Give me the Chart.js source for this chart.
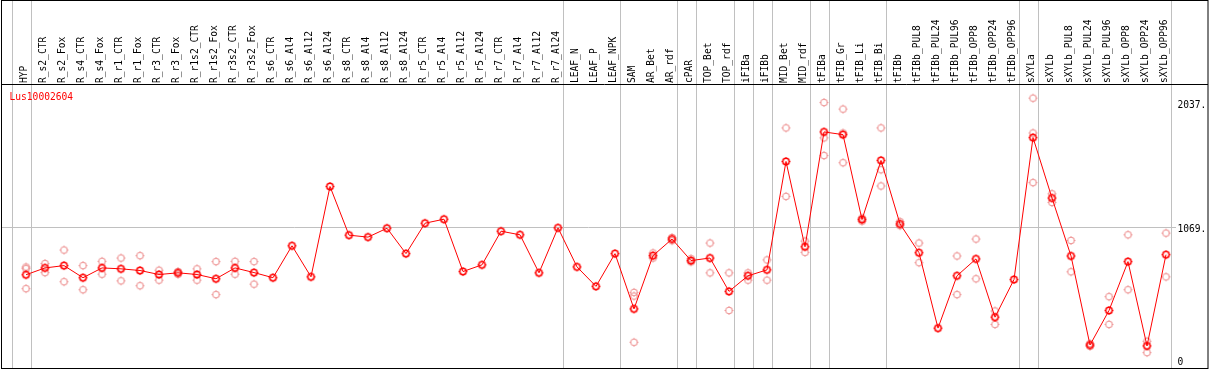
<!DOCTYPE html>
<html>
<head>
<meta charset="utf-8">
<script src="https://cdn.jsdelivr.net/npm/chart.js@4.4.0/dist/chart.umd.min.js"></script>
<style>
  html, body { margin: 0; padding: 0; background: #ffffff; }
  #wrap { width: 1209px; height: 370px; position: relative; }
</style>
</head>
<body>
<div id="wrap"><canvas id="c" width="1209" height="370"></canvas></div>
<script>
const geneName = 'Lus10002604';

const categories = [
  'HYP','R_s2_CTR','R_s2_Fox','R_s4_CTR','R_s4_Fox','R_r1_CTR','R_r1_Fox','R_r3_CTR','R_r3_Fox',
  'R_r1s2_CTR','R_r1s2_Fox','R_r3s2_CTR','R_r3s2_Fox','R_s6_CTR','R_s6_Al4','R_s6_Al12','R_s6_Al24',
  'R_s8_CTR','R_s8_Al4','R_s8_Al12','R_s8_Al24','R_r5_CTR','R_r5_Al4','R_r5_Al12','R_r5_Al24',
  'R_r7_CTR','R_r7_Al4','R_r7_Al12','R_r7_Al24','LEAF_N','LEAF_P','LEAF_NPK','SAM','AR_Bet','AR_rdf',
  'cPAR','TOP_Bet','TOP_rdf','iFIBa','iFIBb','MID_Bet','MID_rdf','tFIBa','tFIB_Gr','tFIB_Li','tFIB_Bi',
  'tFIBb','tFIBb_PUL8','tFIBb_PUL24','tFIBb_PUL96','tFIBb_OPP8','tFIBb_OPP24','tFIBb_OPP96',
  'sXYLa','sXYLb','sXYLb_PUL8','sXYLb_PUL24','sXYLb_PUL96','sXYLb_OPP8','sXYLb_OPP24','sXYLb_OPP96'
];

const means = [
  700, 753, 771, 677, 753, 746, 733, 702, 715,
  702, 669, 753, 717, 677, 925, 684, 1385,
  1007, 992, 1061, 864, 1100, 1131, 725, 777,
  1038, 1010, 715, 1064, 761, 610, 864, 435, 848, 977,
  810, 830, 571, 692, 738, 1579, 917, 1808, 1787, 1128, 1587,
  1094, 871, 286, 692, 823, 371, 663,
  1764, 1295, 846, 155, 423, 802, 148, 856
];

const replicates = [
  [760, 748, 592], [787, 717], [892, 646], [771, 584], [804, 704], [830, 653], [848, 615], [735, 658], [725, 704],
  [746, 658], [802, 546], [804, 704], [802, 627], [], [], [], [],
  [], [], [], [], [], [], [], [],
  [], [], [], [], [], [], [], [563, 535, 176], [869, 830], [989, 964],
  [825, 800], [946, 715], [715, 423], [715, 658], [815, 658], [1839, 1308], [961, 874], [2036, 1762, 1625], [1985, 1800, 1569], [1140, 1116], [1839, 1515, 1389],
  [1112, 1081], [946, 794], [], [846, 546], [977, 669], [419, 315], [],
  [2070, 1800, 1415], [1328, 1261], [966, 723], [165, 145], [530, 315], [1010, 584], [184, 96], [1023, 684]
];

const yTicks = [0, 1069, 2037];
const yTickLabels = ['0', '1069.', '2037.'];
// index of the last category of each group (-1 = before the first)
const groupEnds = [-1, 0, 28, 31, 34, 35, 37, 38, 39, 41, 42, 45, 52, 53, 60];

const FONT = '9.6px "DejaVu Sans Mono", "Liberation Mono", monospace';

function makeMarker(color, lw) {
  const s = 11, c = s / 2, r = 3.2;
  const cv = document.createElement('canvas');
  cv.width = s; cv.height = s;
  const g = cv.getContext('2d');
  g.strokeStyle = color;
  g.lineWidth = lw;
  g.beginPath(); g.arc(c, c, r, 0, Math.PI * 2); g.stroke();
  g.lineWidth = 1;
  g.beginPath();
  g.moveTo(c, c - r - 1.2); g.lineTo(c, c - r);
  g.moveTo(c, c + r); g.lineTo(c, c + r + 1.2);
  g.moveTo(c - r - 1.2, c); g.lineTo(c - r, c);
  g.moveTo(c + r, c); g.lineTo(c + r + 1.2, c);
  g.stroke();
  return cv;
}
const meanMarker = makeMarker('#ff0000', 1.5);
const repMarker = makeMarker('#ee9494', 1.1);

const repData = [];
replicates.forEach((arr, i) => arr.forEach(v => repData.push({ x: categories[i], y: v })));

const decor = {
  id: 'decor',
  beforeDatasetsDraw(chart) {
    const ctx = chart.ctx;
    const xs = chart.scales.x, ys = chart.scales.y;
    const w = xs.getPixelForValue(1) - xs.getPixelForValue(0);
    ctx.save();
    ctx.strokeStyle = '#c0c0c0';
    ctx.lineWidth = 1;
    const yg = Math.round(ys.getPixelForValue(yTicks[1])) + 0.5;
    ctx.beginPath(); ctx.moveTo(1, yg); ctx.lineTo(1176, yg); ctx.stroke();
    groupEnds.forEach(i => {
      const x = Math.round(xs.getPixelForValue(i) + w * 0.237) + 0.5;
      ctx.beginPath(); ctx.moveTo(x, 0); ctx.lineTo(x, 368); ctx.stroke();
    });
    ctx.restore();
  },
  afterDraw(chart) {
    const ctx = chart.ctx;
    const ys = chart.scales.y;
    ctx.save();
    ctx.strokeStyle = '#000000';
    ctx.lineWidth = 1;
    ctx.strokeRect(1.5, 0.5, 1206.5, 368);
    ctx.beginPath(); ctx.moveTo(1, 84.5); ctx.lineTo(1208, 84.5); ctx.stroke();
    ctx.font = FONT;
    ctx.fillStyle = '#000000';
    ctx.textAlign = 'left';
    ctx.textBaseline = 'middle';
    yTicks.forEach((v, k) => {
      let y = ys.getPixelForValue(v) + 2.7;
      if (y > 362.7) y = 362.7;
      ctx.fillText(yTickLabels[k], 1177.5, y);
    });
    ctx.fillStyle = '#ff0000';
    ctx.fillText(geneName, 9.5, 97.5);
    ctx.restore();
  }
};

new Chart(document.getElementById('c'), {
  type: 'line',
  data: {
    labels: categories,
    datasets: [
      {
        label: 'mean',
        data: means,
        borderColor: '#ff0000',
        borderWidth: 1,
        pointStyle: meanMarker,
        pointRadius: 4,
        tension: 0,
        fill: false
      },
      {
        label: 'replicates',
        data: repData,
        showLine: false,
        pointStyle: repMarker,
        pointRadius: 4,
        borderColor: '#ee9494'
      }
    ]
  },
  options: {
    responsive: false,
    animation: false,
    events: [],
    layout: { padding: { left: 16.5, right: 33.5, top: 0, bottom: 2.8 } },
    plugins: { legend: { display: false }, tooltip: { enabled: false }, title: { display: false } },
    scales: {
      x: {
        type: 'category',
        position: 'top',
        offset: true,
        grid: { display: false, drawTicks: false },
        border: { display: false },
        ticks: {
          autoSkip: false,
          minRotation: 90,
          maxRotation: 90,
          padding: 2,
          labelOffset: 10,
          color: '#000000',
          font: { family: '"DejaVu Sans Mono", "Liberation Mono", monospace', size: 9.6 }
        },
        afterFit(scale) { scale.height = 85; }
      },
      y: {
        display: false,
        min: 0,
        max: 2172
      }
    }
  },
  plugins: [decor]
});
</script>
</body>
</html>
